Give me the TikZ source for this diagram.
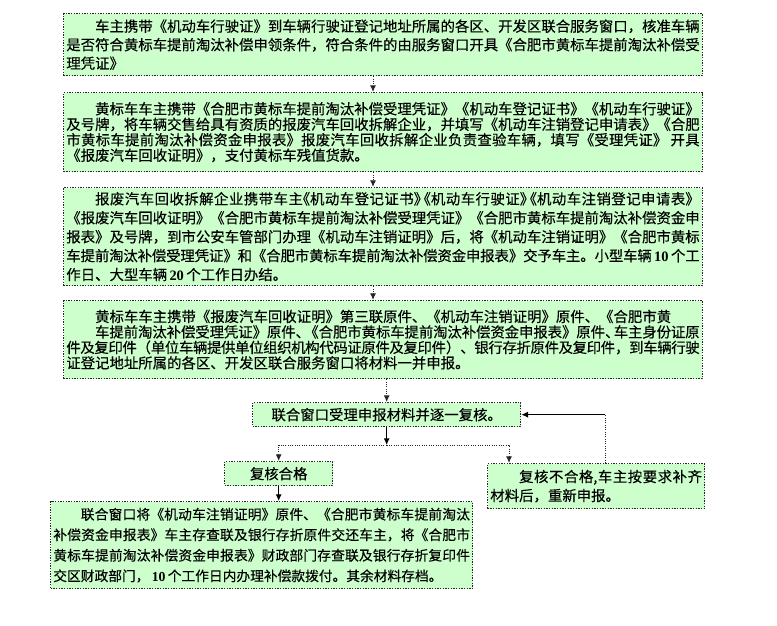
\documentclass[tikz,border=0pt]{standalone}
\usepackage{fontspec}
\setmainfont{Noto Sans CJK SC}[FakeBold=0.25]
\newfontfamily\numfont{Liberation Serif}
\usetikzlibrary{arrows.meta}
\XeTeXlinebreaklocale "zh"
\XeTeXlinebreakskip=0pt plus 3pt minus 0.4pt
\definecolor{boxgreen}{HTML}{CCFFCC}
\newcommand{\bnum}[1]{\,{\numfont\bfseries #1}\,}
\newcommand{\firstind}{\hspace*{2em}}
\begin{document}
\begin{tikzpicture}[x=0.75pt,y=-0.75pt,>={Latex[length=5pt,width=4.5pt]},
    stepbox/.style={draw=black!85,densely dotted,line width=1pt,fill=boxgreen,anchor=north west,inner xsep=2pt,inner ysep=0pt},
    widebox/.style={stepbox,text width=475pt,align=justify},
    flow/.style={->,densely dotted,draw=black!85,line width=0.75pt},
    firm/.style={->,draw=black,line width=0.75pt}]
				\useasboundingbox (0,0) rectangle (777,625);
				\node[widebox,font=\fontsize{10.8}{13.9}\selectfont,minimum height=46.5pt] (owner) at (63,13) {\firstind 车主携带《机动车行驶证》到车辆行驶证登记地址所属的各区、开发区联合服务窗口，核准车辆\linebreak 是否符合黄标车提前淘汰补偿申领条件，符合条件的由服务窗口开具《合肥市黄标车提前淘汰补偿受\linebreak 理凭证》};
				\node[widebox,font=\fontsize{10.8}{11.6}\selectfont,minimum height=59.25pt] (scrap) at (63,92) {\firstind 黄标车车主携带《合肥市黄标车提前淘汰补偿受理凭证》《机动车登记证书》《机动车行驶证》\linebreak 及号牌，将车辆交售给具有资质的报废汽车回收拆解企业，并填写《机动车注销登记申请表》《合肥\linebreak 市黄标车提前淘汰补偿资金申报表》报废汽车回收拆解企业负责查验车辆，填写《受理凭证》 开具\linebreak 《报废汽车回收证明》，支付黄标车残值货款。};
				\node[widebox,font=\fontsize{10.8}{14.2}\selectfont,minimum height=73.5pt] (cancel) at (63,187) {\firstind 报废汽车回收拆解企业携带车主\kern-.5em《机动车登记证书》\kern-.8em《机动车行驶证》\kern-.8em《机动车注销登记申请表》\linebreak 《报废汽车回收证明》《合肥市黄标车提前淘汰补偿受理凭证》《合肥市黄标车提前淘汰补偿资金申\linebreak 报表》及号牌，到市公安车管部门办理《机动车注销证明》后，将《机动车注销证明》《合肥市黄标\linebreak 车提前淘汰补偿受理凭证》和《合肥市黄标车提前淘汰补偿资金申报表》交予车主。小型车辆\bnum{10}个工\linebreak 作日、大型车辆\bnum{20}个工作日办结。};
				\node[widebox,font=\fontsize{10.8}{11.6}\selectfont,minimum height=58.5pt] (apply) at (63,300) {\firstind 黄标车车主携带《报废汽车回收证明》第三联原件、《机动车注销证明》原件、《合肥市黄\\ \firstind 车提前淘汰补偿受理凭证》原件、\kern-.4em《合肥市黄标车提前淘汰补偿资金申报表》原件、\kern-.4em车主身份证原\linebreak 件及复印件（单位车辆提供单位组织机构代码证原件及复印件）、银行存折原件及复印件，到车辆行驶\linebreak 证登记地址所属的各区、开发区联合服务窗口将材料一并申报。};
				\node[stepbox,font=\fontsize{10.8}{13}\selectfont,minimum width=201pt,minimum height=18pt] (check) at (252,402) {联合窗口受理申报材料并逐一复核。};
				\node[stepbox,font=\fontsize{10.8}{13}\selectfont,minimum width=81pt,minimum height=18pt] (pass) at (224,461) {复核合格};
				\node[stepbox,text width=158.75pt,align=justify,font=\fontsize{10.8}{14.2}\selectfont,minimum height=33.75pt] (fail) at (487,463) {\firstind 复核不合格,车主按要求补齐\linebreak 材料后，重新申报。};
				\node[stepbox,text width=312.5pt,align=justify,font=\fontsize{10.3}{15.4}\selectfont,minimum height=65.25pt] (pay) at (50,501) {\firstind 联合窗口将《机动车注销证明》原件、《合肥市黄标车提前淘汰\linebreak 补偿资金申报表》车主存查联及银行存折原件交还车主，将《合肥市\linebreak 黄标车提前淘汰补偿资金申报表》财政部门存查联及银行存折复印件\linebreak 交区财政部门，\bnum{10}个工作日内办理补偿款拨付。其余材料存档。};
				\coordinate (col) at (373,0);
				\coordinate (fork) at (check.south |- 0,445);
				\coordinate (back) at ([xshift=88.5pt]fail.north west);
				\draw[flow] (owner.south -| col) -- (scrap.north -| col);
				\draw[flow] (scrap.south -| col) -- (cancel.north -| col);
				\draw[flow] (cancel.south -| col) -- (apply.north -| col);
				\draw[flow] (apply.south -| check.north) -- (check.north);
				\draw[firm] (check.south) -- (fork);
				\draw[flow] (fork) -| (pass.north);
				\draw[flow] (fork) -| ([xshift=16.5pt]fail.north west);
				\draw[firm] (pass.south) -- (pass.south |- pay.north);
				\draw[densely dotted,draw=black!85,line width=0.75pt] (back) -- (back |- check.east);
				\draw[firm] (back |- check.east) -- (check.east);
			\end{tikzpicture}
\end{document}
